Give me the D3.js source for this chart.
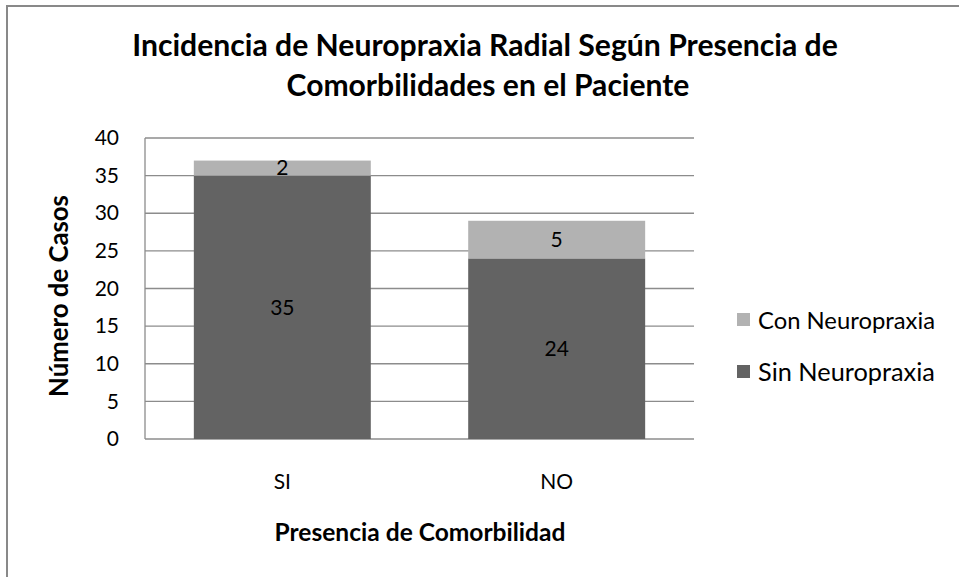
<!DOCTYPE html>
<html><head><meta charset="utf-8">
<script src="https://cdn.jsdelivr.net/npm/d3@7"></script>
<style>body{margin:0;background:#fff}svg{display:block}text{font-family:Lato,"Open Sans",sans-serif}</style>
</head><body><svg id="c" width="959" height="577"></svg>
<script>
const categories = ["SI", "NO"];
const seriesNames = ["Sin Neuropraxia", "Con Neuropraxia"];
const sinValues = [35, 24];
const conValues = [2, 5];
const yTicks = [0, 5, 10, 15, 20, 25, 30, 35, 40];
const colors = {"Sin Neuropraxia": "#636363", "Con Neuropraxia": "#b2b2b2"};

const svg = d3.select("#c");
svg.append("rect").attr("x", 7).attr("y", 6).attr("width", 960).attr("height", 580)
  .attr("fill", "#fff").attr("stroke", "#898989").attr("stroke-width", 2);

// fit text to a target width (layout helper)
function fit(sel, w) {
  const n = sel.node();
  const cur = n.getComputedTextLength();
  const fs = parseFloat(sel.attr("font-size"));
  sel.attr("font-size", (fs * w / cur).toFixed(2));
  return sel;
}

const L = 145, R = 694, T = 138, B = 439;
const x = d3.scaleBand().domain(categories).range([L, R]).paddingInner(0.355).paddingOuter(0.178);
const y = d3.scaleLinear().domain([0, 40]).range([B, T]);
const FS = 21;

// gridlines
svg.append("g").selectAll("line").data(yTicks).join("line")
  .attr("x1", L).attr("x2", R).attr("y1", d => y(d)).attr("y2", d => y(d))
  .attr("stroke", "#8c8c8c").attr("stroke-width", 1.3);
svg.append("line").attr("x1", L).attr("x2", L).attr("y1", T).attr("y2", B)
  .attr("stroke", "#8c8c8c").attr("stroke-width", 1.3);

// y axis tick labels
const yAxis = d3.axisLeft(y).tickValues(yTicks).tickSize(0).tickPadding(26);
const ga = svg.append("g").attr("transform", `translate(${L},0)`).call(yAxis);
ga.select(".domain").remove();
ga.attr("font-family", null).attr("font-size", null);
ga.selectAll("text").attr("font-size", FS).attr("fill", "#000").style("font-family", 'Lato,sans-serif');

// stacked data
const rows = categories.map((c, i) => ({cat: c, "Sin Neuropraxia": sinValues[i], "Con Neuropraxia": conValues[i]}));
const stack = d3.stack().keys(seriesNames)(rows);
stack.forEach(s => {
  svg.append("g").selectAll("rect").data(s).join("rect")
    .attr("x", d => x(d.data.cat)).attr("width", x.bandwidth())
    .attr("y", d => y(d[1])).attr("height", d => y(d[0]) - y(d[1]))
    .attr("fill", colors[s.key]);
  svg.append("g").selectAll("text").data(s).join("text")
    .attr("x", d => x(d.data.cat) + x.bandwidth() / 2)
    .attr("y", d => (y(d[0]) + y(d[1])) / 2)
    .attr("dy", "0.35em").attr("text-anchor", "middle").attr("font-size", FS).attr("fill", "#000")
    .text(d => d.data[s.key]);
});

// x labels
svg.append("g").selectAll("text").data(categories).join("text")
  .attr("x", d => x(d) + x.bandwidth() / 2).attr("y", 482).attr("dy", "0.35em")
  .attr("text-anchor", "middle").attr("font-size", FS).text(d => d);

// titles
fit(svg.append("text").attr("x", 485).attr("y", 56).attr("text-anchor", "middle").attr("font-size", 24).attr("font-weight", "bold")
  .text("Incidencia de Neuropraxia Radial Según Presencia de"), 706);
fit(svg.append("text").attr("x", 488).attr("y", 96).attr("text-anchor", "middle").attr("font-size", 24).attr("font-weight", "bold")
  .text("Comorbilidades en el Paciente"), 403);
fit(svg.append("text").attr("x", 420).attr("y", 541).attr("text-anchor", "middle").attr("font-size", 18).attr("font-weight", "bold")
  .text("Presencia de Comorbilidad"), 291);
fit(svg.append("text").attr("transform", "translate(68,296) rotate(-90)").attr("text-anchor", "middle")
  .attr("font-size", 18).attr("font-weight", "bold").text("Número de Casos"), 202);

// legend
const legend = [...seriesNames].reverse();
const lg = svg.append("g").selectAll("g").data(legend).join("g")
  .attr("transform", (d, i) => `translate(737,${313 + i * 52})`);
lg.append("rect").attr("width", 13).attr("height", 13).attr("fill", d => colors[d]);
lg.append("text").attr("x", 21).attr("y", 7.5).attr("dy", "0.35em").attr("font-size", FS).text(d => d)
  .each(function() { fit(d3.select(this), 177); });
</script></body></html>
